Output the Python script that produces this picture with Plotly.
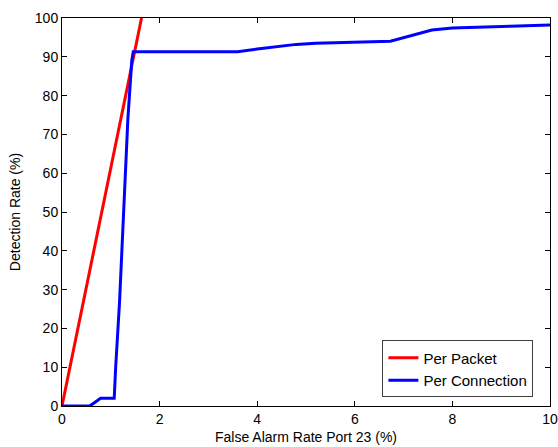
import plotly.graph_objects as go

# ROC-style curves: false alarm rate (%) vs detection rate (%)
packet_far = [0.0, 1.63]
packet_det = [0.0, 100.0]

conn_far = [0.0, 0.57, 0.79, 1.07, 1.10, 1.15, 1.18, 1.35, 1.40, 1.43, 1.46,
            3.6, 4.0, 4.8, 5.2, 6.0, 6.73, 7.58, 8.0, 9.18, 9.76, 10.0]
conn_det = [0.0, 0.0, 2.0, 2.0, 10.0, 19.0, 27.0, 74.0, 84.5, 89.0, 91.3,
            91.3, 92.0, 93.2, 93.5, 93.8, 94.0, 96.9, 97.4, 97.9, 98.2, 98.2]

x_ticks = [0, 2, 4, 6, 8, 10]
y_ticks = [0, 10, 20, 30, 40, 50, 60, 70, 80, 90, 100]

FONT = "Liberation Sans, Arial"

fig = go.Figure()
fig.add_trace(go.Scatter(x=packet_far, y=packet_det, mode="lines",
                         name="Per Packet", line=dict(color="#ff0000", width=3)))
fig.add_trace(go.Scatter(x=conn_far, y=conn_det, mode="lines",
                         name="Per Connection", line=dict(color="#0000ff", width=3)))

axis_style = dict(showline=True, linecolor="black", linewidth=1, mirror="ticks",
                  ticks="inside", ticklen=5, tickcolor="black", showgrid=False,
                  zeroline=False, ticklabeloverflow="allow",
                  tickfont=dict(family=FONT, size=14, color="black"))

fig.update_xaxes(range=[0, 10], tickvals=x_ticks,
                 title=dict(text="False Alarm Rate Port 23 (%)",
                            font=dict(family=FONT, size=14, color="black"), standoff=6),
                 **axis_style)
fig.update_yaxes(range=[0, 100], tickvals=y_ticks,
                 title=dict(text="Detection Rate (%)",
                            font=dict(family=FONT, size=14, color="black"), standoff=10),
                 **axis_style)

fig.update_layout(
    width=558, height=447,
    margin=dict(l=62, r=8, t=18, b=41, autoexpand=False),
    paper_bgcolor="white", plot_bgcolor="white",
    font=dict(family=FONT, size=14, color="black"),
    legend=dict(x=0.966, y=0.022, xanchor="right", yanchor="bottom",
                bgcolor="white", bordercolor="#404040", borderwidth=1,
                tracegroupgap=0, itemwidth=30,
                font=dict(family=FONT, size=15, color="black")),
)

fig.write_html("out.html")
